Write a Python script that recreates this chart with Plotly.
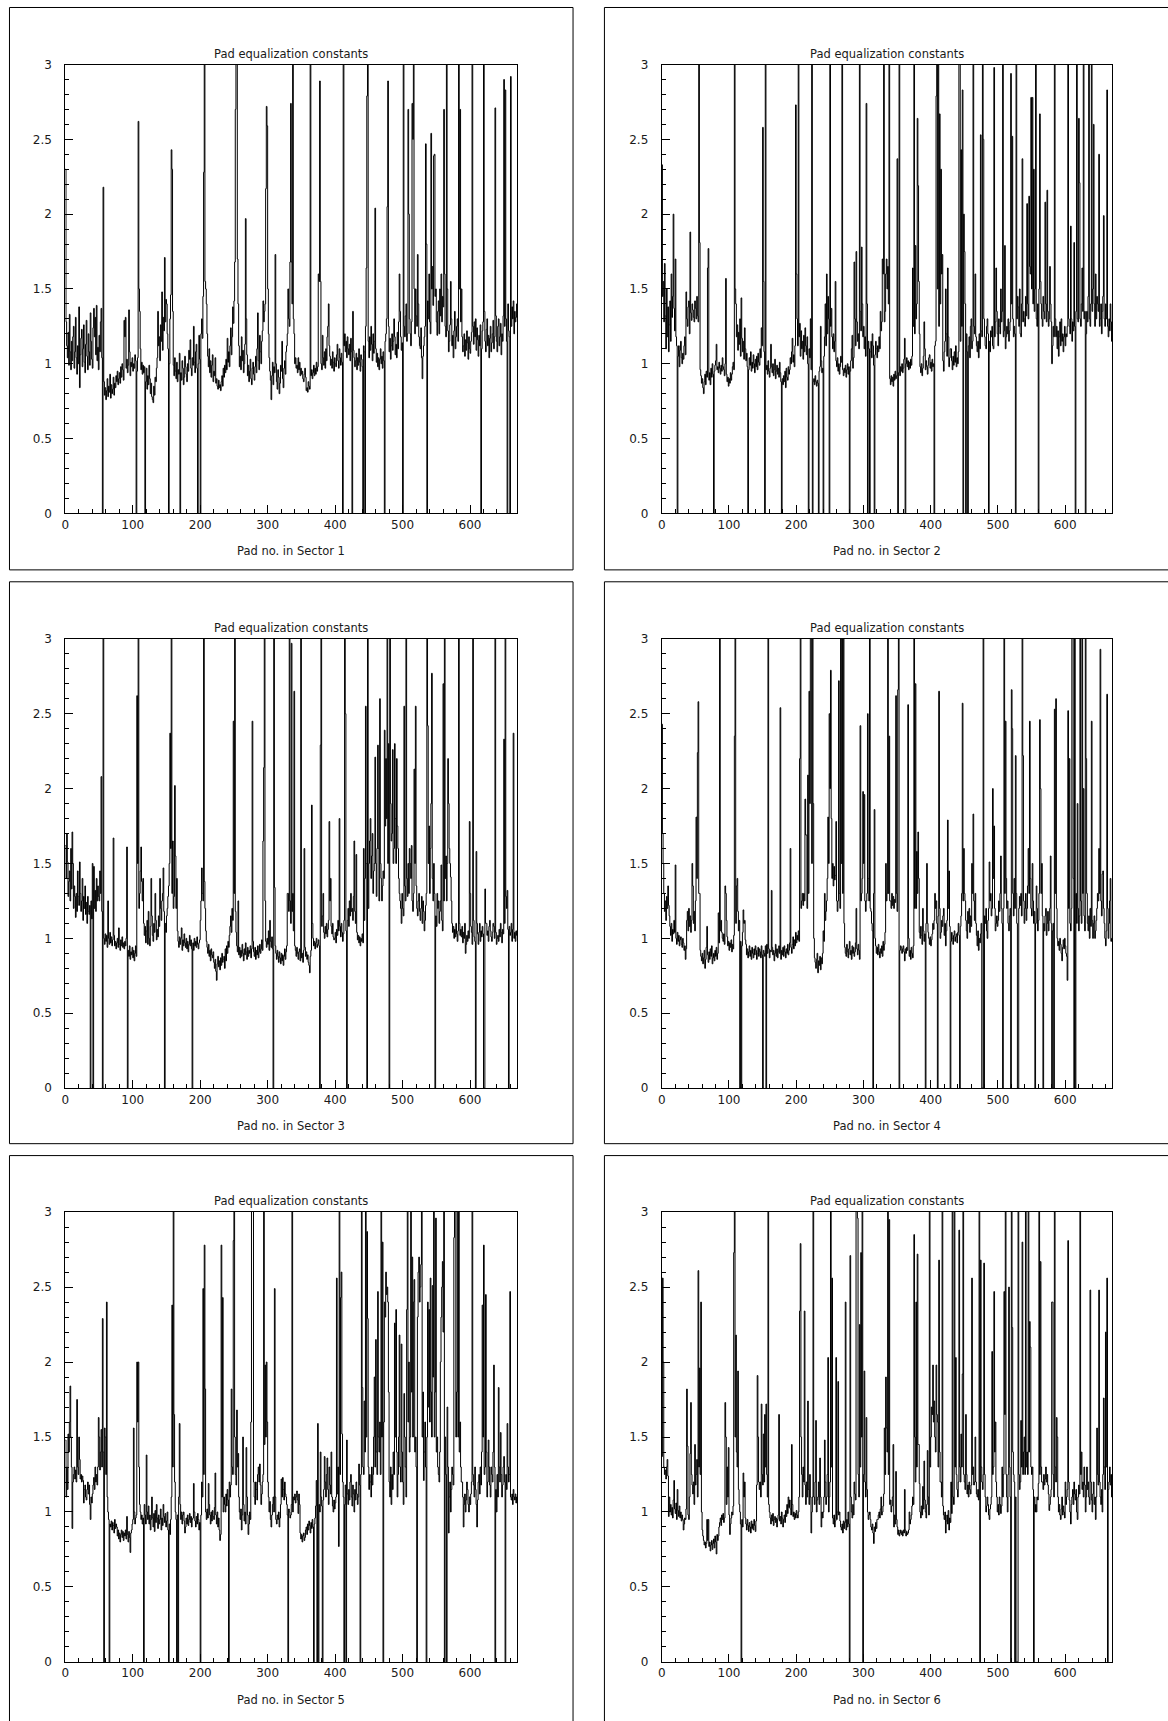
import plotly.graph_objects as go

# Pad equalization constants (in units of 0.01), pads 0..669 of each sector.
# Entries above 300 run off the top of the frame.
sector1 = [
    230, 128, 112, 104, 121, 99, 133, 108, 96, 115,
    102, 118, 125, 97, 108, 131, 104, 93, 112, 100,
    138, 84, 106, 117, 123, 98, 110, 126, 101, 94,
    113, 129, 105, 96, 120, 108, 99, 134, 115, 103,
    97, 124, 137, 118, 131, 106, 139, 102, 111, 96,
    119, 108, 128, 137, 104, 0, 218, 88, 79, 84,
    76, 82, 90, 78, 85, 81, 93, 77, 86, 80,
    83, 91, 79, 87, 84, 92, 88, 95, 86, 90,
    94, 87, 98, 91, 100, 96, 89, 129, 118, 131,
    97, 103, 94, 99, 136, 108, 92, 101, 98, 104,
    95, 100, 97, 106, 102, 0, 95, 104, 262, 150,
    135, 110, 96, 101, 93, 99, 94, 98, 0, 88,
    97, 83, 92, 86, 99, 90, 80, 87, 78, 76,
    74, 85, 79, 91, 88, 97, 104, 135, 112, 118,
    102, 126, 115, 148, 109, 131, 122, 171, 128, 143,
    140, 120, 110, 0, 100, 130, 146, 243, 230, 135,
    99, 92, 104, 95, 90, 101, 88, 96, 93, 107,
    0, 94, 89, 102, 97, 86, 91, 105, 98, 93,
    88, 100, 95, 109, 103, 116, 97, 92, 104, 99,
    125, 101, 94, 108, 113, 97, 0, 100, 119, 103,
    0, 120, 130, 117, 145, 228, 340, 155, 150, 140,
    120, 105, 98, 110, 94, 102, 91, 99, 106, 88,
    95, 92, 104, 87, 90, 85, 83, 89, 84, 86,
    82, 88, 92, 85, 97, 91, 99, 94, 103, 96,
    117, 101, 108, 98, 112, 124, 106, 118, 138, 127,
    142, 168, 270, 340, 340, 170, 140, 112, 98, 105,
    96, 118, 102, 109, 94, 100, 113, 197, 130, 106,
    92, 99, 88, 95, 103, 90, 86, 97, 101, 93,
    89, 98, 105, 94, 110, 134, 102, 96, 119, 108,
    100, 115, 122, 142, 128, 135, 140, 217, 272, 259,
    150, 120, 104, 95, 89, 76, 92, 101, 86, 98,
    94, 173, 100, 88, 83, 96, 91, 80, 87, 99,
    95, 115, 90, 84, 97, 102, 93, 108, 112, 120,
    150, 130, 125, 168, 274, 168, 140, 340, 130, 120,
    100, 104, 97, 99, 94, 104, 96, 101, 92, 97,
    93, 95, 90, 88, 93, 97, 91, 82, 84, 81,
    88, 85, 83, 340, 92, 96, 90, 94, 99, 92,
    97, 93, 101, 95, 98, 160, 155, 289, 155, 100,
    96, 119, 104, 99, 108, 97, 110, 102, 118, 125,
    140, 112, 105, 99, 103, 97, 108, 101, 95, 104,
    100, 98, 106, 113, 102, 97, 110, 104, 99, 107,
    101, 0, 340, 112, 120, 108, 115, 104, 118, 110,
    106, 113, 102, 117, 108, 0, 135, 109, 104, 98,
    102, 107, 96, 104, 99, 110, 101, 95, 106, 103,
    98, 0, 112, 108, 0, 125, 164, 279, 340, 115,
    104, 118, 109, 125, 113, 102, 120, 107, 115, 204,
    110, 101, 107, 98, 104, 96, 103, 110, 100, 105,
    97, 108, 102, 0, 115, 120, 130, 205, 289, 125,
    108, 117, 103, 112, 120, 109, 115, 130, 118, 106,
    113, 104, 121, 110, 128, 160, 135, 118, 109, 114,
    0, 340, 125, 118, 132, 140, 115, 120, 270, 200,
    130, 120, 112, 128, 274, 250, 340, 150, 120, 150,
    132, 125, 173, 140, 118, 112, 110, 124, 104, 90,
    105, 112, 118, 125, 247, 180, 0, 142, 130, 160,
    128, 120, 254, 150, 165, 139, 239, 240, 145, 150,
    128, 119, 135, 142, 120, 150, 132, 160, 128, 145,
    138, 270, 160, 125, 118, 340, 150, 122, 108, 115,
    126, 155, 130, 112, 119, 104, 122, 135, 110, 118,
    125, 130, 115, 340, 150, 270, 128, 150, 118, 108,
    112, 120, 105, 116, 109, 122, 114, 103, 118, 110,
    107, 115, 121, 340, 125, 113, 128, 118, 130, 109,
    124, 116, 105, 119, 112, 126, 0, 110, 122, 128,
    340, 135, 115, 108, 123, 130, 112, 119, 104, 117,
    125, 108, 114, 120, 129, 110, 118, 271, 132, 115,
    108, 125, 130, 112, 118, 127, 106, 120, 115, 132,
    290, 125, 283, 130, 115, 0, 140, 122, 118, 0,
    292, 125, 138, 130, 142, 120, 135, 128, 131, 140,
]

sector2 = [
    233, 145, 155, 128, 167, 132, 110, 150, 118, 138,
    108, 126, 142, 115, 160, 131, 145, 200, 137, 122,
    170, 118, 112, 0, 105, 112, 98, 109, 115, 104,
    100, 107, 103, 112, 118, 106, 148, 130, 125, 138,
    142, 120, 188, 134, 129, 140, 136, 131, 128, 142,
    137, 130, 145, 132, 128, 340, 181, 96, 92, 87,
    90, 84, 80, 88, 93, 86, 95, 91, 164, 177,
    89, 94, 86, 97, 91, 100, 93, 0, 95, 99,
    102, 113, 96, 98, 94, 101, 97, 93, 99, 95,
    104, 98, 96, 92, 100, 157, 93, 88, 91, 85,
    90, 87, 94, 89, 93, 98, 101, 96, 340, 150,
    140, 118, 126, 109, 121, 113, 130, 105, 144, 117,
    108, 115, 103, 124, 110, 102, 107, 98, 0, 96,
    104, 99, 108, 95, 101, 97, 106, 100, 94, 103,
    98, 105, 96, 107, 101, 99, 110, 104, 124, 112,
    258, 155, 108, 0, 340, 96, 99, 93, 102, 95,
    91, 97, 113, 98, 94, 100, 92, 96, 103, 90,
    95, 99, 93, 97, 91, 101, 94, 88, 0, 90,
    86, 92, 88, 95, 84, 97, 91, 89, 98, 93,
    96, 104, 100, 108, 117, 101, 106, 98, 112, 273,
    160, 130, 112, 340, 118, 127, 105, 122, 110, 115,
    103, 119, 108, 124, 112, 106, 118, 100, 0, 110,
    104, 130, 96, 340, 0, 88, 90, 86, 92, 88,
    85, 89, 87, 0, 95, 98, 125, 102, 94, 97,
    0, 105, 118, 140, 112, 160, 120, 145, 130, 0,
    340, 125, 137, 118, 110, 120, 108, 115, 155, 102,
    98, 104, 95, 100, 93, 98, 105, 101, 340, 96,
    92, 97, 94, 99, 91, 96, 100, 93, 98, 0,
    95, 102, 110, 119, 97, 104, 168, 130, 112, 175,
    128, 115, 120, 110, 340, 135, 122, 178, 140, 118,
    125, 110, 118, 105, 274, 140, 0, 115, 110, 0,
    108, 115, 104, 120, 112, 99, 0, 106, 115, 110,
    104, 112, 108, 118, 110, 135, 122, 128, 170, 160,
    340, 128, 135, 160, 170, 150, 165, 140, 340, 90,
    86, 92, 88, 91, 85, 93, 89, 95, 90, 92,
    237, 0, 94, 340, 92, 98, 95, 100, 94, 97,
    103, 117, 0, 100, 104, 98, 102, 96, 101, 97,
    103, 99, 105, 164, 125, 340, 120, 179, 130, 140,
    264, 219, 155, 120, 98, 94, 100, 92, 97, 105,
    128, 110, 96, 102, 98, 93, 99, 104, 106, 97,
    101, 95, 103, 98, 100, 0, 112, 115, 279, 340,
    150, 340, 125, 267, 140, 230, 160, 173, 102, 95,
    108, 115, 150, 120, 105, 164, 118, 98, 104, 110,
    110, 102, 96, 105, 99, 108, 101, 112, 98, 104,
    100, 108, 340, 340, 115, 243, 125, 283, 0, 200,
    175, 140, 0, 120, 108, 0, 112, 118, 104, 125,
    130, 110, 115, 340, 125, 120, 160, 118, 112, 108,
    115, 104, 120, 110, 253, 122, 118, 340, 250, 130,
    118, 112, 110, 125, 130, 120, 0, 115, 108, 122,
    118, 125, 112, 110, 298, 118, 128, 164, 135, 120,
    112, 130, 125, 120, 150, 128, 135, 340, 118, 122,
    179, 110, 118, 125, 120, 130, 115, 122, 128, 294,
    140, 252, 130, 118, 125, 120, 0, 340, 130, 145,
    138, 125, 150, 120, 118, 140, 237, 128, 135, 130,
    125, 145, 132, 207, 140, 130, 212, 165, 160, 278,
    150, 278, 140, 230, 135, 150, 340, 130, 125, 140,
    0, 150, 267, 155, 140, 130, 125, 145, 135, 130,
    208, 140, 128, 216, 135, 125, 130, 165, 140, 128,
    100, 112, 125, 118, 340, 130, 118, 125, 110, 122,
    105, 118, 128, 112, 130, 115, 120, 108, 118, 125,
    112, 120, 118, 125, 340, 130, 125, 120, 192, 130,
    115, 128, 122, 181, 125, 0, 135, 340, 130, 128,
    264, 221, 130, 125, 140, 164, 135, 340, 130, 135,
    0, 120, 135, 128, 145, 340, 130, 125, 140, 340,
    135, 150, 260, 140, 125, 160, 130, 145, 140, 135,
    240, 125, 130, 140, 120, 135, 145, 199, 130, 125,
    140, 130, 283, 125, 118, 130, 122, 140, 128, 115,
]

sector3 = [
    162, 140, 170, 151, 128, 138, 145, 125, 160, 133,
    171, 150, 120, 135, 128, 114, 130, 118, 145, 128,
    122, 151, 130, 118, 125, 140, 112, 128, 120, 135,
    116, 124, 110, 128, 118, 116, 122, 0, 125, 113,
    150, 0, 148, 120, 132, 118, 140, 125, 135, 128,
    125, 145, 130, 208, 118, 0, 340, 100, 96, 103,
    98, 102, 94, 125, 100, 96, 104, 97, 101, 95,
    99, 167, 102, 95, 98, 93, 97, 100, 94, 107,
    96, 92, 99, 95, 101, 94, 97, 93, 98, 95,
    100, 161, 0, 92, 88, 95, 86, 91, 89, 94,
    87, 92, 85, 90, 95, 88, 262, 150, 340, 120,
    130, 145, 161, 138, 125, 140, 110, 102, 108, 97,
    105, 112, 96, 118, 100, 95, 108, 140, 115, 102,
    98, 110, 104, 130, 112, 99, 106, 101, 115, 108,
    140, 120, 112, 125, 130, 147, 118, 0, 110, 104,
    115, 120, 128, 135, 150, 237, 160, 340, 130, 165,
    120, 128, 202, 155, 120, 140, 105, 98, 94, 101,
    96, 100, 107, 92, 99, 95, 103, 97, 94, 100,
    93, 98, 91, 96, 102, 95, 99, 93, 0, 97,
    92, 100, 95, 98, 94, 101, 96, 93, 97, 99,
    112, 125, 147, 130, 125, 340, 138, 120, 105, 98,
    94, 90, 96, 88, 92, 85, 93, 89, 87, 91,
    84, 80, 86, 78, 72, 83, 88, 81, 85, 79,
    87, 82, 90, 84, 86, 88, 80, 93, 85, 95,
    90, 98, 94, 102, 108, 115, 104, 120, 112, 245,
    130, 340, 118, 104, 95, 91, 125, 89, 94, 87,
    92, 88, 96, 90, 85, 93, 89, 97, 91, 86,
    94, 88, 92, 90, 95, 87, 93, 245, 98, 91,
    88, 94, 86, 92, 89, 95, 87, 91, 96, 90,
    93, 99, 92, 165, 214, 340, 125, 98, 94, 100,
    96, 105, 92, 112, 98, 94, 101, 93, 0, 340,
    134, 95, 90, 86, 92, 88, 84, 91, 87, 83,
    90, 85, 89, 82, 88, 93, 86, 91, 95, 130,
    130, 118, 340, 125, 110, 297, 118, 130, 105, 265,
    95, 92, 88, 94, 90, 86, 91, 93, 85, 340,
    87, 90, 84, 92, 160, 94, 88, 91, 86, 89,
    84, 82, 77, 88, 92, 189, 110, 100, 95, 98,
    93, 97, 100, 94, 96, 99, 95, 0, 229, 340,
    108, 115, 130, 104, 100, 108, 103, 110, 101, 106,
    112, 178, 125, 140, 108, 103, 110, 101, 99, 100,
    104, 97, 106, 102, 112, 105, 180, 108, 101, 110,
    104, 98, 103, 112, 340, 250, 105, 0, 112, 120,
    108, 125, 115, 130, 118, 120, 112, 128, 165, 118,
    110, 156, 104, 99, 102, 97, 101, 95, 100, 98,
    103, 97, 160, 112, 140, 255, 150, 0, 340, 120,
    150, 165, 180, 140, 155, 170, 130, 145, 150, 221,
    150, 128, 160, 229, 160, 125, 260, 150, 140, 125,
    135, 145, 140, 239, 175, 220, 180, 340, 150, 230,
    0, 340, 190, 165, 170, 226, 150, 160, 230, 180,
    150, 220, 175, 160, 140, 130, 125, 120, 110, 130,
    120, 115, 255, 135, 125, 340, 140, 128, 150, 130,
    160, 150, 140, 162, 125, 118, 130, 213, 150, 255,
    135, 120, 115, 125, 130, 118, 112, 120, 128, 110,
    125, 118, 105, 112, 122, 130, 340, 242, 150, 175,
    130, 160, 190, 277, 140, 125, 150, 130, 0, 115,
    108, 130, 120, 125, 110, 118, 125, 149, 112, 105,
    270, 125, 340, 140, 155, 125, 150, 220, 190, 160,
    150, 141, 125, 110, 104, 108, 100, 106, 101, 110,
    103, 98, 105, 340, 110, 102, 106, 101, 108, 97,
    104, 100, 110, 90, 96, 102, 98, 105, 100, 178,
    130, 108, 104, 96, 340, 112, 101, 98, 0, 158,
    110, 103, 96, 104, 110, 98, 105, 101, 108, 103,
    0, 0, 133, 110, 110, 102, 105, 98, 108, 112,
    105, 101, 98, 104, 110, 108, 100, 340, 104, 96,
    100, 102, 98, 106, 101, 110, 104, 97, 106, 103,
    233, 110, 340, 128, 120, 132, 106, 0, 108, 102,
    104, 110, 98, 106, 237, 100, 104, 98, 105, 102,
]

sector4 = [
    243, 170, 150, 130, 118, 125, 112, 128, 120, 135,
    122, 115, 108, 102, 110, 98, 106, 103, 112, 104,
    149, 100, 96, 104, 98, 102, 95, 99, 101, 96,
    94, 100, 97, 92, 95, 86, 93, 112, 118, 105,
    120, 108, 115, 104, 112, 150, 135, 110, 118, 105,
    125, 181, 140, 224, 258, 130, 130, 92, 88, 85,
    90, 83, 87, 92, 80, 86, 94, 108, 89, 84,
    91, 86, 93, 88, 95, 83, 87, 90, 85, 92,
    88, 94, 86, 90, 117, 97, 340, 105, 112, 104,
    100, 98, 103, 96, 135, 130, 112, 101, 95, 98,
    92, 97, 94, 99, 91, 96, 93, 102, 235, 340,
    110, 135, 140, 118, 105, 112, 0, 98, 0, 95,
    104, 119, 110, 112, 99, 96, 89, 93, 87, 91,
    95, 88, 92, 86, 94, 90, 87, 93, 89, 95,
    92, 86, 90, 94, 88, 93, 91, 87, 95, 89,
    0, 92, 90, 88, 95, 0, 96, 90, 340, 93,
    87, 92, 91, 132, 94, 89, 92, 85, 90, 96,
    88, 93, 87, 91, 95, 90, 254, 86, 92, 89,
    94, 88, 95, 91, 87, 93, 90, 96, 89, 92,
    97, 160, 94, 90, 96, 101, 93, 99, 95, 104,
    97, 102, 99, 105, 98, 220, 340, 120, 125, 130,
    122, 130, 125, 193, 169, 169, 120, 209, 130, 265,
    190, 340, 340, 150, 340, 190, 100, 87, 84, 80,
    86, 90, 77, 85, 82, 88, 79, 87, 83, 90,
    105, 98, 130, 112, 118, 125, 140, 181, 150, 250,
    200, 279, 180, 140, 150, 135, 148, 139, 142, 178,
    125, 118, 125, 272, 130, 120, 340, 150, 340, 130,
    340, 110, 94, 90, 88, 96, 91, 87, 93, 98,
    89, 92, 86, 95, 90, 94, 88, 91, 97, 120,
    93, 89, 96, 92, 86, 242, 125, 130, 140, 198,
    150, 196, 125, 118, 125, 130, 250, 140, 125, 340,
    120, 118, 110, 105, 0, 130, 186, 100, 95, 90,
    94, 89, 96, 91, 87, 93, 90, 95, 88, 98,
    92, 96, 104, 150, 125, 130, 340, 130, 235, 125,
    125, 120, 130, 122, 128, 120, 126, 124, 262, 130,
    118, 266, 340, 0, 92, 95, 94, 90, 93, 95,
    91, 85, 93, 90, 94, 92, 256, 100, 88, 92,
    86, 94, 90, 87, 95, 340, 120, 270, 120, 158,
    130, 171, 140, 104, 100, 108, 102, 96, 120, 105,
    98, 103, 0, 110, 150, 110, 104, 100, 96, 101,
    95, 99, 103, 110, 106, 112, 130, 120, 125, 110,
    0, 115, 265, 120, 100, 104, 112, 108, 115, 120,
    102, 110, 95, 105, 112, 179, 120, 145, 108, 0,
    98, 104, 100, 96, 102, 105, 98, 101, 103, 97,
    104, 110, 102, 0, 108, 115, 130, 257, 125, 160,
    130, 125, 112, 105, 100, 118, 110, 120, 104, 115,
    108, 150, 130, 183, 125, 112, 130, 110, 102, 95,
    105, 92, 100, 97, 103, 110, 0, 0, 340, 0,
    115, 110, 120, 105, 100, 112, 120, 151, 125, 130,
    115, 120, 200, 140, 175, 120, 105, 110, 115, 108,
    112, 125, 118, 130, 155, 120, 110, 0, 120, 340,
    130, 245, 140, 120, 125, 110, 105, 115, 120, 0,
    266, 240, 130, 115, 140, 120, 222, 130, 110, 0,
    0, 120, 128, 122, 130, 115, 340, 222, 125, 110,
    120, 130, 112, 120, 135, 160, 130, 245, 140, 120,
    115, 150, 125, 110, 118, 0, 110, 135, 120, 105,
    112, 130, 246, 200, 130, 150, 115, 0, 110, 105,
    115, 120, 102, 110, 118, 105, 112, 120, 155, 110,
    0, 105, 110, 0, 253, 130, 260, 120, 100, 95,
    98, 92, 100, 96, 90, 85, 94, 99, 93, 100,
    95, 90, 88, 72, 252, 120, 220, 110, 105, 120,
    340, 340, 140, 0, 340, 0, 130, 110, 190, 120,
    105, 115, 340, 125, 110, 340, 130, 200, 115, 105,
    340, 220, 130, 110, 105, 115, 100, 120, 108, 245,
    112, 100, 110, 115, 100, 105, 112, 120, 130, 125,
    160, 130, 293, 125, 115, 143, 145, 120, 110, 100,
    95, 105, 263, 120, 100, 110, 125, 140, 98, 100,
]

sector5 = [
    148, 110, 130, 115, 152, 140, 160, 184, 150, 130,
    89, 120, 125, 130, 122, 128, 120, 175, 130, 125,
    150, 135, 122, 125, 120, 124, 121, 106, 115, 118,
    110, 108, 115, 120, 112, 118, 105, 95, 110, 106,
    112, 118, 123, 115, 130, 120, 125, 118, 130, 163,
    150, 128, 140, 155, 130, 229, 140, 0, 156, 150,
    125, 240, 110, 100, 95, 0, 92, 90, 94, 88,
    93, 91, 86, 95, 89, 92, 90, 84, 88, 82,
    86, 80, 85, 88, 83, 87, 81, 86, 84, 88,
    82, 97, 85, 80, 87, 83, 73, 86, 88, 92,
    95, 156, 100, 92, 96, 98, 200, 160, 200, 130,
    105, 100, 95, 98, 92, 96, 0, 105, 98, 92,
    138, 100, 95, 104, 92, 98, 88, 95, 110, 96,
    90, 99, 87, 101, 93, 105, 96, 89, 98, 92,
    95, 102, 88, 96, 91, 105, 97, 93, 99, 90,
    94, 100, 88, 0, 92, 85, 95, 110, 238, 130,
    340, 165, 120, 100, 95, 0, 98, 0, 110, 159,
    105, 95, 100, 92, 98, 100, 94, 86, 90, 96,
    92, 98, 91, 95, 99, 93, 97, 90, 95, 96,
    119, 100, 94, 90, 97, 92, 99, 95, 88, 93,
    0, 98, 120, 110, 249, 125, 278, 182, 100, 95,
    102, 96, 119, 105, 98, 92, 100, 94, 101, 97,
    95, 103, 126, 98, 92, 100, 90, 96, 88, 81,
    85, 278, 110, 243, 100, 110, 105, 100, 112, 104,
    115, 108, 0, 120, 110, 118, 182, 130, 125, 281,
    340, 150, 125, 118, 168, 130, 139, 110, 100, 95,
    102, 88, 98, 150, 105, 94, 100, 92, 143, 110,
    98, 85, 92, 100, 95, 160, 340, 340, 340, 120,
    110, 105, 120, 115, 108, 125, 130, 120, 132, 118,
    105, 112, 120, 125, 340, 145, 198, 150, 200, 160,
    120, 110, 100, 107, 95, 90, 98, 105, 110, 100,
    249, 110, 95, 92, 98, 95, 100, 90, 96, 105,
    122, 110, 123, 115, 108, 120, 112, 110, 105, 98,
    0, 102, 100, 96, 98, 105, 340, 100, 110, 108,
    112, 106, 110, 114, 108, 99, 112, 105, 86, 82,
    85, 80, 84, 86, 81, 83, 88, 90, 85, 92,
    88, 94, 91, 86, 93, 89, 95, 90, 0, 92,
    96, 104, 121, 0, 159, 0, 105, 100, 140, 110,
    104, 0, 108, 115, 137, 120, 110, 125, 136, 115,
    105, 130, 118, 112, 140, 110, 104, 100, 108, 102,
    106, 110, 256, 112, 130, 77, 340, 125, 243, 260,
    152, 120, 110, 0, 105, 118, 0, 148, 112, 105,
    115, 108, 120, 125, 110, 104, 118, 112, 100, 115,
    108, 120, 112, 105, 110, 132, 118, 0, 125, 340,
    183, 130, 125, 174, 140, 340, 150, 287, 229, 130,
    115, 125, 120, 110, 130, 118, 125, 150, 190, 130,
    215, 140, 125, 247, 150, 140, 160, 125, 340, 150,
    280, 0, 160, 240, 230, 260, 245, 250, 240, 180,
    120, 110, 130, 105, 125, 115, 140, 125, 226, 150,
    235, 140, 110, 125, 150, 218, 130, 120, 212, 140,
    120, 105, 179, 150, 130, 110, 235, 340, 160, 200,
    140, 150, 340, 180, 270, 150, 240, 255, 140, 150,
    130, 0, 230, 260, 270, 240, 250, 265, 340, 150,
    180, 121, 140, 160, 130, 0, 150, 240, 170, 235,
    160, 256, 180, 150, 251, 190, 340, 150, 180, 296,
    140, 150, 130, 125, 120, 140, 200, 230, 250, 267,
    220, 340, 0, 150, 125, 0, 170, 130, 86, 110,
    120, 100, 115, 130, 125, 118, 283, 340, 340, 150,
    180, 340, 150, 340, 140, 160, 130, 120, 120, 110,
    90, 105, 112, 100, 108, 120, 115, 105, 100, 110,
    105, 112, 120, 340, 125, 118, 110, 130, 115, 105,
    90, 108, 120, 125, 112, 130, 118, 140, 238, 150,
    278, 125, 130, 245, 140, 110, 120, 148, 130, 118,
    110, 130, 125, 120, 140, 198, 130, 0, 115, 100,
    125, 110, 183, 130, 120, 153, 125, 110, 118, 130,
    137, 120, 0, 125, 115, 159, 130, 120, 125, 247,
    110, 108, 112, 105, 115, 110, 108, 112, 106, 110,
]

sector6 = [
    137, 256, 200, 130, 125, 128, 122, 130, 135, 124,
    97, 110, 100, 105, 98, 103, 96, 108, 121, 102,
    99, 106, 95, 115, 101, 97, 104, 96, 100, 94,
    98, 95, 88, 92, 96, 95, 102, 182, 144, 98,
    95, 110, 139, 173, 125, 118, 112, 120, 105, 145,
    118, 125, 135, 110, 261, 130, 196, 125, 240, 100,
    88, 84, 81, 78, 80, 76, 79, 95, 81, 95,
    77, 80, 74, 78, 81, 75, 79, 82, 76, 84,
    80, 72, 85, 81, 84, 90, 93, 96, 91, 98,
    95, 99, 93, 96, 173, 150, 105, 130, 110, 143,
    98, 85, 92, 96, 100, 98, 104, 273, 340, 150,
    218, 140, 130, 194, 115, 105, 100, 92, 0, 95,
    90, 126, 110, 120, 96, 92, 88, 95, 91, 87,
    93, 90, 86, 94, 89, 92, 88, 95, 91, 87,
    94, 118, 191, 150, 120, 115, 120, 110, 172, 125,
    118, 152, 120, 165, 130, 172, 125, 110, 340, 105,
    100, 96, 92, 98, 94, 99, 91, 95, 97, 93,
    96, 90, 95, 98, 165, 94, 97, 92, 100, 96,
    90, 95, 98, 93, 101, 97, 105, 99, 110, 103,
    108, 102, 98, 145, 105, 97, 100, 95, 99, 96,
    101, 98, 96, 100, 110, 234, 279, 150, 125, 110,
    130, 120, 234, 118, 105, 120, 110, 174, 115, 105,
    125, 110, 86, 100, 110, 340, 110, 105, 120, 161,
    100, 108, 110, 120, 105, 136, 110, 90, 100, 96,
    100, 110, 148, 120, 105, 110, 125, 203, 100, 110,
    120, 340, 130, 256, 96, 92, 98, 90, 94, 203,
    95, 100, 187, 98, 100, 94, 90, 88, 92, 86,
    94, 89, 93, 240, 88, 95, 90, 100, 92, 0,
    271, 110, 100, 96, 105, 98, 120, 112, 108, 340,
    340, 296, 125, 110, 225, 130, 273, 150, 340, 0,
    125, 194, 120, 110, 163, 115, 100, 95, 98, 100,
    95, 90, 88, 92, 86, 79, 90, 87, 93, 89,
    95, 95, 98, 100, 96, 102, 110, 98, 100, 104,
    112, 156, 125, 190, 156, 140, 340, 125, 295, 105,
    108, 100, 104, 110, 145, 90, 98, 92, 127, 95,
    90, 85, 88, 84, 86, 88, 85, 87, 84, 88,
    86, 115, 88, 84, 87, 85, 86, 88, 100, 92,
    95, 98, 104, 110, 105, 285, 150, 120, 240, 130,
    272, 145, 145, 119, 100, 96, 104, 98, 117, 102,
    134, 108, 100, 96, 105, 141, 110, 98, 340, 130,
    150, 170, 165, 198, 160, 174, 150, 140, 198, 165,
    160, 130, 268, 140, 120, 120, 110, 340, 104, 98,
    95, 100, 86, 94, 98, 92, 101, 88, 96, 93,
    120, 99, 340, 110, 105, 340, 130, 203, 125, 115,
    110, 120, 288, 130, 120, 152, 130, 192, 340, 125,
    120, 115, 165, 125, 112, 118, 110, 120, 115, 112,
    118, 256, 125, 130, 118, 120, 150, 120, 112, 110,
    115, 108, 340, 0, 268, 130, 120, 115, 125, 266,
    125, 110, 100, 104, 110, 105, 98, 95, 102, 105,
    110, 207, 125, 130, 247, 140, 160, 120, 110, 100,
    105, 98, 110, 105, 99, 104, 130, 110, 125, 247,
    165, 340, 125, 110, 100, 125, 250, 130, 110, 0,
    340, 223, 140, 125, 120, 0, 110, 0, 0, 0,
    340, 125, 115, 120, 161, 130, 280, 125, 140, 150,
    125, 340, 130, 140, 125, 340, 140, 227, 210, 130,
    125, 130, 115, 0, 110, 100, 105, 100, 110, 108,
    119, 340, 125, 267, 130, 120, 120, 115, 125, 118,
    122, 130, 120, 125, 118, 112, 101, 105, 110, 115,
    240, 240, 125, 110, 340, 130, 120, 163, 150, 110,
    100, 105, 98, 95, 102, 110, 98, 104, 100, 96,
    120, 105, 110, 115, 281, 120, 108, 100, 92, 105,
    110, 115, 105, 120, 112, 108, 115, 100, 95, 110,
    118, 112, 340, 125, 140, 115, 120, 110, 130, 118,
    100, 110, 130, 115, 120, 110, 105, 248, 120, 108,
    100, 112, 120, 105, 110, 95, 110, 156, 125, 118,
    248, 120, 110, 105, 115, 100, 125, 176, 130, 115,
    220, 130, 256, 0, 115, 120, 130, 118, 125, 110,
]

SECTORS = [sector1, sector2, sector3, sector4, sector5, sector6]
SECTOR_NAMES = [1, 2, 3, 4, 5, 6]
X_TICKS = [0, 100, 200, 300, 400, 500, 600]
Y_TICKS = [0, 0.5, 1, 1.5, 2, 2.5, 3]
Y_TICK_TEXT = ["0", "0.5", "1", "1.5", "2", "2.5", "3"]
TITLE = "Pad equalization constants"
XLABEL = "Pad no. in Sector {}"

# ---- page geometry (pixels) ----
W, H = 1168, 1721
COLS = [(61.5, 515.0), (660.0, 1112.0)]          # plot-area left/right
ROWS = [(58.0, 510.5), (637.0, 1090.0), (1215.0, 1668.5)]  # plot-area top/bottom
FRAME_X = [(5.5, 571.0), (602.5, 1180.0)]
FRAME_Y = [(0.5, 567.5), (579.5, 1146.0), (1158.0, 1740.0)]

FONT = "DejaVu Sans, Verdana, sans-serif"
INK = "#1a1a1a"

fig = go.Figure()

axis_style = dict(
    showline=True, mirror=True, linecolor="black", linewidth=1,
    showgrid=False, zeroline=False,
    ticks="inside", ticklen=8, tickwidth=1, tickcolor="black",
    tickfont=dict(family=FONT, size=12, color=INK),
    fixedrange=True,
)

annotations = []
shapes = []

for k, vals in enumerate(SECTORS):
    r, c = divmod(k, 2)
    left, right = COLS[c]
    top, bottom = ROWS[r]
    suffix = "" if k == 0 else str(k + 1)
    n = len(vals)
    y = [v / 100.0 for v in vals]
    # histogram outline: each bin drawn flat across [i, i+1]
    fig.add_trace(go.Scatter(
        x=list(range(n + 1)), y=y + [y[-1]],
        mode="lines", line=dict(color="black", width=1, shape="hv"),
        xaxis="x" + suffix, yaxis="y" + suffix,
        showlegend=False, hoverinfo="skip",
    ))

    fig.layout["xaxis" + suffix] = dict(
        domain=[left / W, right / W], range=[0, n], anchor="y" + suffix,
        tickmode="array", tickvals=X_TICKS,
        minor=dict(tickmode="array", tickvals=list(range(20, n, 20)),
                   ticks="inside", ticklen=4, tickcolor="black", showgrid=False),
        **axis_style,
    )
    fig.layout["yaxis" + suffix] = dict(
        domain=[1 - bottom / H, 1 - top / H], range=[0, 3], anchor="x" + suffix,
        tickmode="array", tickvals=Y_TICKS, ticktext=Y_TICK_TEXT,
        ticklabelstandoff=10,
        minor=dict(tickmode="array", tickvals=[i / 10 for i in range(1, 30)],
                   ticks="inside", ticklen=4, tickcolor="black", showgrid=False),
        **axis_style,
    )

    cx = (left + right) / 2 / W
    annotations.append(dict(
        text=TITLE, x=cx, y=1 - (top - 11) / H, xref="paper", yref="paper",
        xanchor="center", yanchor="middle", showarrow=False,
        font=dict(family=FONT, size=11.5, color=INK),
    ))
    annotations.append(dict(
        text=XLABEL.format(SECTOR_NAMES[k]), x=cx, y=1 - (bottom + 38) / H,
        xref="paper", yref="paper", xanchor="center", yanchor="middle",
        showarrow=False, font=dict(family=FONT, size=11.5, color=INK),
    ))

# outer frame around each pad
for (fy0, fy1) in FRAME_Y:
    for (fx0, fx1) in FRAME_X:
        shapes.append(dict(
            type="rect", xref="paper", yref="paper",
            x0=fx0 / W, x1=fx1 / W, y0=1 - fy1 / H, y1=1 - fy0 / H,
            line=dict(color="black", width=1), fillcolor="rgba(0,0,0,0)",
        ))

fig.update_layout(
    width=W, height=H, margin=dict(l=0, r=0, t=0, b=0),
    paper_bgcolor="white", plot_bgcolor="white",
    annotations=annotations, shapes=shapes,
    font=dict(family=FONT, color=INK),
)

fig.write_html("out.html", config={"displayModeBar": False})
